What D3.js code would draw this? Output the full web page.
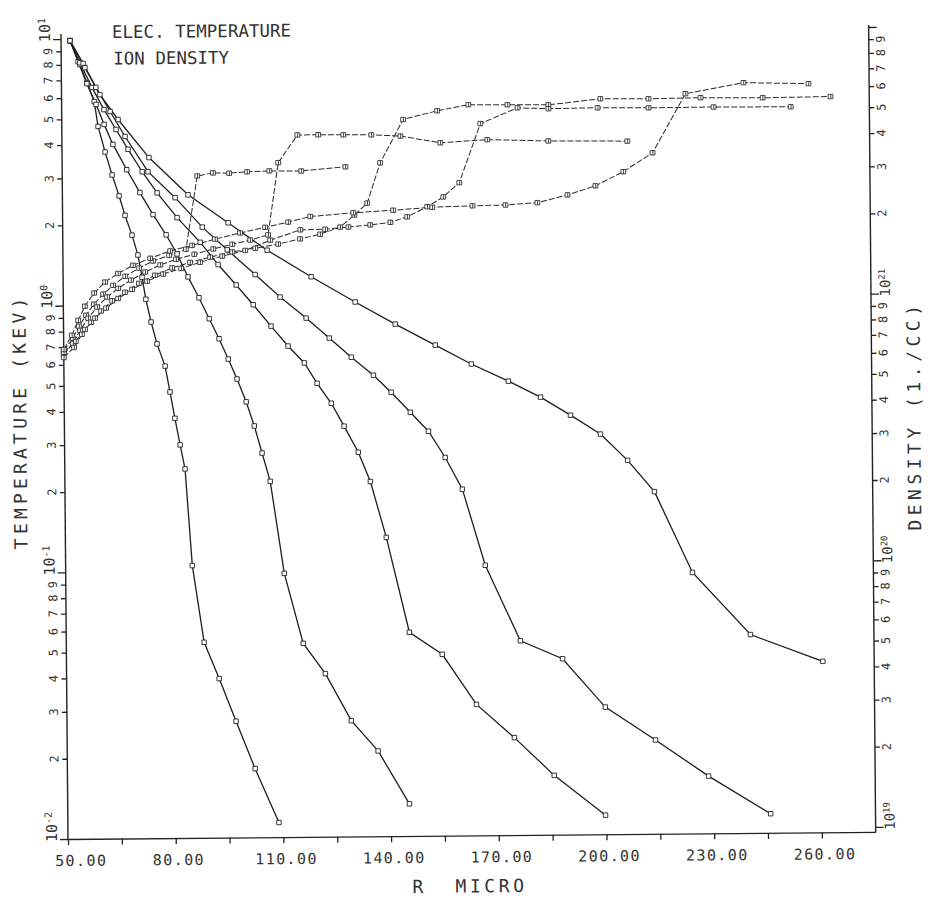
<!DOCTYPE html>
<html>
<head>
<meta charset="utf-8">
<script src="https://cdn.jsdelivr.net/npm/d3@7/dist/d3.min.js"></script>
<style>
  body { margin: 0; background: #fff; }
  svg text { font-family: "DejaVu Sans Mono", monospace; fill: #333; }
  .axis path, .axis line { stroke: #222; stroke-width: 1.3; }
</style>
</head>
<body>
<script>
// electron temperature (keV) against R (micro), five profiles
var tempR1 = [52.5, 55.2, 57.1, 59.1, 60.1, 62.0, 63.9, 65.8, 67.4, 69.3, 70.9, 72.0, 73.0, 74.4, 76.0, 78.2, 79.5, 80.8, 82.2, 83.5, 85.3, 88.4, 92.5, 97.1, 102.3, 108.8];
var tempT1 = [9.86, 8.01, 6.85, 5.81, 4.69, 3.76, 3.08, 2.57, 2.17, 1.83, 1.54, 1.27, 1.05, 0.863, 0.714, 0.589, 0.471, 0.375, 0.298, 0.242, 0.105, 0.0541, 0.0395, 0.0273, 0.0181, 0.01135];
var tempR2 = [52.5, 54.7, 57.1, 59.6, 61.8, 64.2, 68.0, 71.6, 75.2, 78.8, 81.8, 84.8, 87.8, 90.6, 93.3, 95.8, 98.2, 100.7, 102.9, 105.0, 107.2, 110.9, 116.0, 122.1, 129.2, 136.6, 145.2];
var tempT2 = [9.85, 8.21, 6.79, 5.67, 4.77, 4.01, 3.22, 2.64, 2.18, 1.83, 1.55, 1.27, 1.06, 0.884, 0.743, 0.623, 0.524, 0.430, 0.349, 0.276, 0.216, 0.0975, 0.0532, 0.0409, 0.0272, 0.0209, 0.0132];
var tempR3 = [52.5, 55.2, 58.5, 61.8, 65.1, 68.4, 72.3, 76.4, 81.9, 88.3, 93.2, 98.2, 102.9, 107.8, 112.5, 117.0, 120.5, 124.4, 127.9, 131.8, 135.1, 139.4, 145.6, 154.7, 164.1, 174.6, 185.6, 199.8];
var tempT3 = [9.85, 8.14, 6.57, 5.42, 4.56, 3.84, 3.16, 2.63, 2.12, 1.71, 1.41, 1.18, 0.994, 0.825, 0.694, 0.599, 0.502, 0.422, 0.346, 0.276, 0.214, 0.132, 0.0581, 0.0479, 0.0310, 0.0232, 0.0167, 0.0118];
var tempR4 = [52.5, 56.1, 59.6, 63.5, 67.6, 73.9, 81.4, 88.9, 95.8, 103.5, 110.4, 117.6, 124.0, 130.1, 136.2, 141.1, 146.4, 151.4, 156.0, 160.7, 166.9, 176.5, 188.2, 200.0, 213.9, 228.6, 245.8];
var tempT4 = [9.85, 8.08, 6.57, 5.33, 4.29, 3.16, 2.52, 1.95, 1.60, 1.29, 1.06, 0.882, 0.741, 0.627, 0.536, 0.462, 0.388, 0.329, 0.262, 0.199, 0.103, 0.0535, 0.0457, 0.0300, 0.0225, 0.0164, 0.0118];
var tempR5 = [52.5, 56.6, 60.7, 65.7, 74.2, 85.0, 96.1, 106.9, 119.1, 131.3, 142.4, 153.5, 163.5, 173.8, 182.7, 191.0, 199.3, 206.8, 214.2, 224.6, 240.6, 260.7];
var tempT5 = [9.85, 7.80, 6.17, 4.97, 3.57, 2.58, 2.02, 1.59, 1.26, 1.01, 0.832, 0.692, 0.586, 0.504, 0.438, 0.374, 0.317, 0.252, 0.192, 0.0953, 0.0555, 0.0438];

// ion density (1/cc) against R (micro), five profiles
var densR1 = [50.0, 52.6, 54.3, 56.3, 58.5, 61.1, 63.9, 67.3, 71.2, 75.1, 79.6, 84.3, 87.6, 92.0, 96.5, 101.5, 107.7, 116.6, 128.9];
var densN1 = [6.51e20, 7.22e20, 8.01e20, 8.80e20, 9.68e20, 1.055e21, 1.137e21, 1.229e21, 1.318e21, 1.399e21, 1.468e21, 1.545e21, 2.906e21, 2.98e21, 2.97e21, 3.00e21, 3.02e21, 3.01e21, 3.11e21];
var densR2 = [50.0, 52.6, 54.6, 56.9, 59.4, 62.2, 65.3, 68.9, 72.9, 77.1, 81.5, 86.6, 91.9, 97.2, 102.2, 107.2, 110.2, 115.6, 121.4, 128.4, 136.2, 144.3, 155.4, 168.5, 185.5, 207.5];
var densN2 = [6.28e20, 6.91e20, 7.73e20, 8.58e20, 9.44e20, 1.029e21, 1.108e21, 1.188e21, 1.273e21, 1.352e21, 1.417e21, 1.479e21, 1.545e21, 1.607e21, 1.664e21, 1.738e21, 3.24e21, 4.11e21, 4.11e21, 4.10e21, 4.09e21, 4.04e21, 3.80e21, 3.89e21, 3.83e21, 3.80e21];
var densR3 = [50.0, 52.9, 55.1, 57.7, 60.5, 63.6, 67.2, 71.1, 75.6, 80.4, 85.4, 91.0, 97.2, 103.6, 110.0, 116.1, 121.7, 127.3, 131.3, 134.9, 138.6, 145.1, 154.6, 163.3, 174.2, 185.6, 200.1, 213.5, 228.0, 245.3, 264.2];
var densN3 = [6.12e20, 6.67e20, 7.47e20, 8.28e20, 9.12e20, 9.95e20, 1.070e21, 1.155e21, 1.237e21, 1.316e21, 1.379e21, 1.440e21, 1.504e21, 1.550e21, 1.604e21, 1.675e21, 1.741e21, 1.849e21, 2.05e21, 2.27e21, 3.21e21, 4.66e21, 5.01e21, 5.27e21, 5.25e21, 5.23e21, 5.49e21, 5.47e21, 5.50e21, 5.47e21, 5.50e21];
var densR4 = [50.0, 53.4, 56.0, 58.8, 61.9, 65.3, 69.2, 73.4, 77.9, 82.9, 88.2, 94.4, 100.8, 107.8, 116.2, 123.1, 129.6, 135.7, 141.3, 146.0, 151.6, 156.1, 160.6, 166.6, 177.0, 185.6, 199.3, 213.5, 231.6, 253.1];
var densN4 = [6.40e20, 7.03e20, 7.79e20, 8.58e20, 9.35e20, 1.015e21, 1.097e21, 1.176e21, 1.249e21, 1.310e21, 1.379e21, 1.452e21, 1.522e21, 1.660e21, 1.811e21, 1.817e21, 1.849e21, 1.880e21, 1.920e21, 2.01e21, 2.19e21, 2.38e21, 2.69e21, 4.47e21, 5.11e21, 5.06e21, 5.08e21, 5.06e21, 5.07e21, 5.05e21];
var densR5 = [50.0, 52.3, 54.1, 56.0, 58.6, 61.7, 65.3, 69.5, 74.3, 79.9, 86.0, 92.4, 99.4, 106.4, 112.8, 119.0, 131.0, 142.1, 153.0, 164.2, 173.4, 182.3, 190.7, 198.5, 206.3, 214.5, 223.8, 240.0, 258.1];
var densN5 = [6.56e20, 7.41e20, 8.43e20, 9.52e20, 1.066e21, 1.171e21, 1.259e21, 1.350e21, 1.433e21, 1.524e21, 1.596e21, 1.682e21, 1.771e21, 1.856e21, 1.938e21, 2.03e21, 2.09e21, 2.13e21, 2.18e21, 2.20e21, 2.21e21, 2.25e21, 2.40e21, 2.59e21, 2.92e21, 3.43e21, 5.70e21, 6.24e21, 6.16e21];

// axes
var xMajor = [50, 80, 110, 140, 170, 200, 230, 260];
var xMinor = [65, 95, 125, 155, 185, 215, 245];
var tempDecades = [0.01, 0.1, 1, 10];
var tempDecadeExp = ["-2", "-1", "0", "1"];
var densDecades = [1e19, 1e20, 1e21, 1e22];
var densDecadeExp = ["19", "20", "21", ""];
var minorDigits = [2, 3, 4, 5, 6, 7, 8, 9];

var width = 930, height = 905;
var frame = {left: 68, right: 875.7, bottom: 839, top: 39};

var svg = d3.select("body").append("svg")
    .attr("width", width)
    .attr("height", height);

// the scanned sheet sits a little askew
var g = svg.append("g")
    .attr("transform", `rotate(-0.5, ${frame.left}, ${frame.bottom})`);

var x = d3.scaleLinear().domain([50, 275]).range([frame.left, frame.right]),
    yT = d3.scaleLog().domain([0.01, 10]).range([frame.bottom, frame.top]),
    yN = d3.scaleLog().domain([1e19, 1e22]).range([834, 34]);

var minorOf = decades => decades.slice(0, -1)
    .reduce((acc, d) => acc.concat(minorDigits.map(m => m * d)), []);
var leadDigit = d => Math.round(d / Math.pow(10, Math.floor(Math.log10(d) + 1e-9)));

// ---- bottom axis
g.append("g")
    .attr("class", "axis")
    .attr("transform", `translate(0, ${frame.bottom})`)
    .call(d3.axisBottom(x).tickValues(xMajor.concat(xMinor)).tickSize(6).tickSizeOuter(0).tickFormat(""));

g.selectAll(".xlab")
    .data(xMajor)
  .enter().append("text")
    .attr("class", "xlab")
    .attr("x", d => x(d) + (d === 50 ? 13 : 3))
    .attr("y", 866)
    .attr("text-anchor", "middle")
    .style("font-size", "15px")
    .style("letter-spacing", "1.4px")
    .text(d3.format(".2f"));

g.append("text").attr("x", 412).attr("y", 896)
    .style("font-size", "18px").text("R");
g.append("text").attr("x", 455).attr("y", 896)
    .style("font-size", "18px").style("letter-spacing", "3.6px").text("MICRO");

// ---- left axis (temperature)
g.append("line")
    .attr("x1", frame.left).attr("x2", frame.left)
    .attr("y1", frame.bottom).attr("y2", 34)
    .attr("stroke", "#222").attr("stroke-width", 1.4);

var gyl = g.append("g").attr("class", "axis").attr("transform", `translate(${frame.left}, 0)`);
gyl.call(d3.axisLeft(yT).tickValues(tempDecades).tickSize(8).tickFormat(""));
gyl.append("g").call(d3.axisLeft(yT).tickValues(minorOf(tempDecades)).tickSize(5).tickFormat(""));
gyl.selectAll(".domain").remove();

g.selectAll(".ylab")
    .data(minorOf(tempDecades))
  .enter().append("text")
    .attr("transform", d => `translate(55, ${yT(d)}) rotate(-90)`)
    .attr("text-anchor", "middle")
    .attr("dy", "0.35em")
    .style("font-size", "12px")
    .text(leadDigit);

var decL = g.selectAll(".ydec")
    .data(tempDecades)
  .enter().append("text")
    .attr("transform", d => `translate(57, ${yT(d) + 3}) rotate(-90)`)
    .style("font-size", "15px");
decL.append("tspan").text("10");
decL.append("tspan").attr("baseline-shift", "super").style("font-size", "10px")
    .text((d, i) => tempDecadeExp[i]);

g.append("text")
    .attr("transform", "translate(30, 421) rotate(-90)")
    .attr("text-anchor", "middle")
    .style("font-size", "18px")
    .style("letter-spacing", "4.2px")
    .text("TEMPERATURE (KEV)");

// ---- right axis (density)
g.append("line")
    .attr("x1", frame.right).attr("x2", frame.right)
    .attr("y1", frame.bottom).attr("y2", 32)
    .attr("stroke", "#222").attr("stroke-width", 1.4);

var gyr = g.append("g").attr("class", "axis").attr("transform", `translate(${frame.right}, 0)`);
gyr.call(d3.axisRight(yN).tickValues(densDecades).tickSize(8).tickFormat(""));
gyr.append("g").call(d3.axisRight(yN).tickValues(minorOf(densDecades)).tickSize(5).tickFormat(""));
gyr.selectAll(".domain").remove();

g.selectAll(".nlab")
    .data(minorOf(densDecades))
  .enter().append("text")
    .attr("transform", d => `translate(${frame.right + 16}, ${yN(d)}) rotate(-90)`)
    .attr("text-anchor", "middle")
    .style("font-size", "12px")
    .text(leadDigit);

var decR = g.selectAll(".ndec")
    .data(densDecades)
  .enter().append("text")
    .attr("transform", d => `translate(${frame.right + 19}, ${yN(d) + 3}) rotate(-90)`)
    .style("font-size", "14px");
decR.append("tspan").text((d, i) => densDecadeExp[i] ? "10" : "");
decR.append("tspan").attr("baseline-shift", "super").style("font-size", "9px")
    .text((d, i) => densDecadeExp[i]);

g.append("text")
    .attr("transform", "translate(924, 423) rotate(-90)")
    .attr("text-anchor", "middle")
    .style("font-size", "18px")
    .style("letter-spacing", "4.5px")
    .text("DENSITY (1./CC)");

// ---- titles
g.append("text").attr("x", 119).attr("y", 38.5)
    .style("font-size", "17.5px").text("ELEC. TEMPERATURE");
g.append("text").attr("x", 120).attr("y", 65)
    .style("font-size", "17.5px").text("ION DENSITY");

// ---- curves
var zip = (a, b) => a.map((d, i) => [d, b[i]]);

var tempSeries = [zip(tempR1, tempT1), zip(tempR2, tempT2), zip(tempR3, tempT3), zip(tempR4, tempT4), zip(tempR5, tempT5)];
var densSeries = [zip(densR1, densN1), zip(densR2, densN2), zip(densR3, densN3), zip(densR4, densN4), zip(densR5, densN5)];

var tempLine = d3.line().x(d => x(d[0])).y(d => yT(d[1]));
var densLine = d3.line().x(d => x(d[0])).y(d => yN(d[1]));

g.selectAll(".dens")
    .data(densSeries)
  .enter().append("path")
    .attr("class", "dens")
    .attr("d", densLine)
    .attr("fill", "none")
    .attr("stroke", "#2a2a2a")
    .attr("stroke-width", 1)
    .attr("stroke-dasharray", "6,2");

g.selectAll(".temp")
    .data(tempSeries)
  .enter().append("path")
    .attr("class", "temp")
    .attr("d", tempLine)
    .attr("fill", "none")
    .attr("stroke", "#1e1e1e")
    .attr("stroke-width", 1.3);

var sq = d3.symbol(d3.symbolSquare, 20);

densSeries.forEach(function(s) {
  g.append("g").selectAll("path")
      .data(s)
    .enter().append("path")
      .attr("transform", d => `translate(${x(d[0])}, ${yN(d[1])})`)
      .attr("d", "M-2.4,-2.2h4.8v4.4h-4.8z M0.3,-2.2v4.4")
      .attr("fill", "#fff")
      .attr("stroke", "#333")
      .attr("stroke-width", 0.9);
});

tempSeries.forEach(function(s) {
  g.append("g").selectAll("path")
      .data(s)
    .enter().append("path")
      .attr("transform", d => `translate(${x(d[0])}, ${yT(d[1])})`)
      .attr("d", sq)
      .attr("fill", "#fff")
      .attr("stroke", "#222")
      .attr("stroke-width", 0.9);
});
</script>
</body>
</html>
